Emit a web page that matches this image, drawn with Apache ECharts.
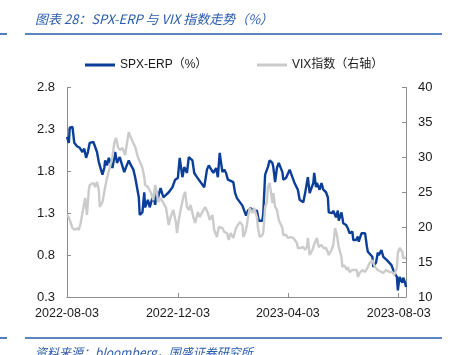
<!DOCTYPE html>
<html>
<head>
<meta charset="utf-8">
<script src="https://cdn.jsdelivr.net/npm/echarts@6/dist/echarts.min.js"></script>
<style>html,body{margin:0;padding:0;background:#fff}#c{width:454px;height:355px}</style>
</head>
<body>
<div id="c"></div>
<script>
const titleText = '图表 28：SPX-ERP 与 VIX 指数走势（%）';
const sourceText = '资料来源：bloomberg，国盛证券研究所';
const seriesNames = ['SPX-ERP（%）', 'VIX指数（右轴）'];
const xTickDates = ['2022-08-03', '2022-12-03', '2023-04-03', '2023-08-03'];
const xRange = ['2022-08-03', '2023-08-11'];
const leftTicks = [0.3, 0.8, 1.3, 1.8, 2.3, 2.8];
const rightTicks = [10, 15, 20, 25, 30, 35, 40];

const spxDates = ['2022-08-03','2022-08-05','2022-08-06','2022-08-09','2022-08-11','2022-08-14','2022-08-17','2022-08-20','2022-08-22','2022-08-24','2022-08-26','2022-08-28','2022-09-01','2022-09-03','2022-09-05','2022-09-07','2022-09-11','2022-09-13','2022-09-14','2022-09-16','2022-09-18','2022-09-22','2022-09-24','2022-09-25','2022-09-27','2022-09-30','2022-10-05','2022-10-07','2022-10-10','2022-10-11','2022-10-15','2022-10-17','2022-10-21','2022-10-22','2022-10-25','2022-10-27','2022-10-28','2022-10-31','2022-11-02','2022-11-03','2022-11-06','2022-11-08','2022-11-10','2022-11-11','2022-11-14','2022-11-17','2022-11-20','2022-11-23','2022-11-27','2022-11-30','2022-12-03','2022-12-05','2022-12-08','2022-12-10','2022-12-13','2022-12-15','2022-12-19','2022-12-21','2022-12-24','2022-12-26','2022-12-30','2023-01-01','2023-01-04','2023-01-06','2023-01-08','2023-01-11','2023-01-14','2023-01-16','2023-01-18','2023-01-21','2023-01-23','2023-01-25','2023-01-27','2023-01-29','2023-02-02','2023-02-04','2023-02-06','2023-02-08','2023-02-12','2023-02-14','2023-02-16','2023-02-18','2023-02-21','2023-02-24','2023-02-26','2023-02-28','2023-03-02','2023-03-06','2023-03-07','2023-03-09','2023-03-11','2023-03-12','2023-03-14','2023-03-17','2023-03-18','2023-03-20','2023-03-22','2023-03-24','2023-03-28','2023-03-29','2023-04-01','2023-04-03','2023-04-05','2023-04-08','2023-04-10','2023-04-12','2023-04-14','2023-04-16','2023-04-20','2023-04-22','2023-04-24','2023-04-25','2023-04-27','2023-05-01','2023-05-02','2023-05-04','2023-05-05','2023-05-08','2023-05-10','2023-05-12','2023-05-15','2023-05-17','2023-05-18','2023-05-22','2023-05-23','2023-05-26','2023-05-28','2023-05-29','2023-06-01','2023-06-03','2023-06-06','2023-06-08','2023-06-10','2023-06-13','2023-06-14','2023-06-17','2023-06-19','2023-06-20','2023-06-23','2023-06-25','2023-06-27','2023-06-29','2023-06-30','2023-07-02','2023-07-05','2023-07-06','2023-07-09','2023-07-11','2023-07-12','2023-07-15','2023-07-17','2023-07-19','2023-07-21','2023-07-23','2023-07-26','2023-07-27','2023-07-29','2023-08-01','2023-08-02','2023-08-04','2023-08-07','2023-08-08','2023-08-10','2023-08-11'];
const spxValues = [2.21,2.14,2.32,2.33,2.14,2.10,2.08,2.03,2.07,1.96,2.03,2.14,2.15,2.14,2.03,1.91,1.76,1.84,1.93,1.87,1.96,1.84,1.97,2.03,1.90,1.97,1.79,1.85,1.93,1.90,1.82,1.73,1.49,1.28,1.31,1.55,1.37,1.46,1.37,1.36,1.52,1.40,1.55,1.48,1.60,1.49,1.52,1.55,1.61,1.70,1.72,1.96,1.73,1.85,1.78,1.97,1.93,1.78,1.73,1.73,1.64,1.61,1.82,1.87,1.85,1.78,1.84,1.73,2.02,1.79,1.82,1.78,1.70,1.71,1.67,1.54,1.48,1.49,1.39,1.33,1.27,1.33,1.36,1.33,1.33,1.33,1.21,1.21,1.31,1.76,1.82,1.85,1.93,1.90,1.85,1.67,1.84,1.90,1.79,1.70,1.72,1.70,1.82,1.73,1.67,1.66,1.58,1.46,1.43,1.54,1.55,1.73,1.54,1.66,1.78,1.61,1.66,1.58,1.66,1.58,1.55,1.49,1.31,1.30,1.33,1.25,1.33,1.21,1.31,1.18,1.16,1.12,1.06,1.08,0.98,0.98,1.02,0.96,1.06,1.08,1.06,0.90,0.84,0.83,0.78,0.66,0.71,0.83,0.80,0.86,0.78,0.80,0.74,0.72,0.68,0.66,0.59,0.54,0.38,0.54,0.47,0.53,0.47,0.42];

const vixDates = ['2022-08-03','2022-08-05','2022-08-06','2022-08-09','2022-08-12','2022-08-14','2022-08-16','2022-08-18','2022-08-22','2022-08-23','2022-08-25','2022-08-27','2022-08-28','2022-09-01','2022-09-03','2022-09-05','2022-09-07','2022-09-08','2022-09-11','2022-09-13','2022-09-14','2022-09-16','2022-09-18','2022-09-19','2022-09-22','2022-09-24','2022-09-26','2022-09-28','2022-09-30','2022-10-03','2022-10-06','2022-10-08','2022-10-10','2022-10-11','2022-10-15','2022-10-17','2022-10-20','2022-10-22','2022-10-25','2022-10-27','2022-10-28','2022-10-31','2022-11-02','2022-11-03','2022-11-06','2022-11-08','2022-11-10','2022-11-11','2022-11-14','2022-11-17','2022-11-20','2022-11-22','2022-11-23','2022-11-25','2022-11-28','2022-12-01','2022-12-02','2022-12-04','2022-12-06','2022-12-09','2022-12-11','2022-12-13','2022-12-15','2022-12-17','2022-12-20','2022-12-22','2022-12-25','2022-12-27','2022-12-30','2023-01-02','2023-01-05','2023-01-07','2023-01-10','2023-01-12','2023-01-15','2023-01-17','2023-01-21','2023-01-23','2023-01-26','2023-01-28','2023-01-30','2023-02-02','2023-02-03','2023-02-05','2023-02-07','2023-02-09','2023-02-12','2023-02-13','2023-02-15','2023-02-17','2023-02-18','2023-02-20','2023-02-23','2023-02-25','2023-02-28','2023-03-01','2023-03-03','2023-03-06','2023-03-07','2023-03-09','2023-03-11','2023-03-12','2023-03-14','2023-03-17','2023-03-18','2023-03-20','2023-03-22','2023-03-24','2023-03-28','2023-03-29','2023-04-01','2023-04-03','2023-04-06','2023-04-09','2023-04-11','2023-04-13','2023-04-14','2023-04-17','2023-04-20','2023-04-22','2023-04-24','2023-04-25','2023-04-27','2023-04-30','2023-05-01','2023-05-04','2023-05-05','2023-05-07','2023-05-10','2023-05-12','2023-05-15','2023-05-17','2023-05-18','2023-05-21','2023-05-23','2023-05-25','2023-05-27','2023-05-29','2023-06-01','2023-06-02','2023-06-04','2023-06-07','2023-06-08','2023-06-10','2023-06-13','2023-06-15','2023-06-18','2023-06-19','2023-06-21','2023-06-24','2023-06-27','2023-06-30','2023-07-02','2023-07-05','2023-07-06','2023-07-08','2023-07-11','2023-07-13','2023-07-17','2023-07-20','2023-07-22','2023-07-24','2023-07-27','2023-07-29','2023-08-01','2023-08-02','2023-08-04','2023-08-07','2023-08-08','2023-08-10','2023-08-11'];
const vixValues = [21.74,21.45,21.03,19.88,19.59,19.88,19.59,20.60,23.46,24.18,21.74,25.32,26.04,26.32,25.75,26.47,25.32,22.89,23.60,25.03,25.75,27.04,27.18,28.47,30.05,32.05,32.77,31.48,31.05,31.34,30.33,32.05,33.63,33.20,32.05,31.48,30.05,29.90,28.47,27.18,26.04,25.75,25.61,25.04,23.89,26.04,25.04,23.60,24.18,23.46,22.74,21.03,20.31,21.45,22.46,20.60,19.16,21.03,22.46,24.32,25.04,22.89,22.46,23.17,21.45,20.60,22.17,21.45,22.17,22.89,22.03,21.03,21.74,19.59,18.59,20.02,19.88,19.31,19.16,18.16,19.16,18.45,18.59,19.88,20.02,20.74,20.31,18.59,19.16,20.31,21.31,22.74,22.03,22.74,21.45,20.02,18.59,18.88,19.31,22.89,23.60,25.75,26.32,23.46,24.89,22.89,22.46,21.03,19.88,18.88,18.88,18.45,18.59,18.45,18.59,17.73,17.02,17.02,17.16,16.73,17.16,18.45,16.01,16.73,17.16,18.16,18.45,17.16,17.45,17.02,17.02,16.44,16.01,16.73,17.45,19.88,18.88,17.16,15.73,14.29,14.58,13.86,14.29,13.58,13.86,13.58,13.86,12.86,13.43,13.86,13.58,14.29,14.87,15.30,14.87,14.29,13.86,13.58,13.43,13.86,13.58,13.58,13.58,13.15,14.15,16.30,17.02,16.44,15.58,15.73,15.58];

function parseDate(s) {
  const p = s.split('-').map(Number);
  return new Date(p[0], p[1] - 1, p[2]).getTime();
}
function fmtDate(t) {
  const d = new Date(t);
  const pad = n => (n < 10 ? '0' : '') + n;
  return d.getFullYear() + '-' + pad(d.getMonth() + 1) + '-' + pad(d.getDate());
}

const BLUE = '#0b3f97';
const GREY = '#cbcbcb';
const HEAD = '#2a5cad';
const AXIS = '#8c8c8c';
const LAB = '#1a1a1a';
const LATIN = '"Liberation Sans", Arial, "Noto Sans CJK SC", sans-serif';

const chart = echarts.init(document.getElementById('c'), null, { renderer: 'canvas' });
chart.setOption({
  animation: false,
  backgroundColor: '#fff',
  grid: { left: 67, right: 48, top: 87.5, bottom: 58, containLabel: false },
  graphic: [
    { type: 'text', left: 35, top: 13, style: { text: titleText, fill: HEAD, font: 'italic 13px "Noto Sans CJK SC", sans-serif' } },
    { type: 'line', shape: { x1: 0, y1: 34, x2: 7, y2: 34 }, style: { stroke: HEAD, lineWidth: 1.6 } },
    { type: 'line', shape: { x1: 25, y1: 34, x2: 442, y2: 34 }, style: { stroke: HEAD, lineWidth: 1.6 } },
    { type: 'line', shape: { x1: 0, y1: 338, x2: 7, y2: 338 }, style: { stroke: HEAD, lineWidth: 1.6 } },
    { type: 'line', shape: { x1: 25, y1: 338, x2: 442, y2: 338 }, style: { stroke: HEAD, lineWidth: 1.6 } },
    { type: 'text', left: 35, top: 346, style: { text: sourceText, fill: HEAD, font: 'italic 12px "Noto Sans CJK SC", sans-serif' } }
  ],
  legend: [
    { data: [seriesNames[0]], left: 85, top: 59, padding: 0, itemWidth: 30, itemHeight: 3, icon: 'rect',
      textStyle: { fontSize: 12, color: LAB, fontFamily: LATIN } },
    { data: [seriesNames[1]], left: 257, top: 59, padding: 0, itemWidth: 30, itemHeight: 3, icon: 'rect',
      textStyle: { fontSize: 12, color: LAB, fontFamily: LATIN } }
  ],
  xAxis: {
    type: 'value',
    min: parseDate(xRange[0]),
    max: parseDate(xRange[1]),
    axisLine: { show: true, lineStyle: { color: AXIS, width: 1 } },
    axisTick: { show: true, inside: true, length: 4, lineStyle: { color: AXIS }, customValues: xTickDates.map(parseDate) },
    axisLabel: { customValues: xTickDates.map(parseDate), formatter: v => fmtDate(v), fontSize: 12.5, color: LAB, fontFamily: LATIN, margin: 10, hideOverlap: false },
    splitLine: { show: false }
  },
  yAxis: [
    { type: 'value', min: leftTicks[0], max: leftTicks[leftTicks.length - 1], interval: 0.5,
      axisLine: { show: true, lineStyle: { color: AXIS } },
      axisTick: { show: true, inside: true, length: 4, lineStyle: { color: AXIS } },
      axisLabel: { formatter: v => Number(v).toFixed(1), fontSize: 13, color: LAB, fontFamily: LATIN, margin: 12 },
      splitLine: { show: false } },
    { type: 'value', position: 'right', min: rightTicks[0], max: rightTicks[rightTicks.length - 1], interval: 5,
      axisLine: { show: true, lineStyle: { color: AXIS } },
      axisTick: { show: true, inside: true, length: 4, lineStyle: { color: AXIS } },
      axisLabel: { formatter: v => String(Math.round(v)), fontSize: 13, color: LAB, fontFamily: LATIN, margin: 12 },
      splitLine: { show: false } }
  ],
  series: [
    { name: seriesNames[0], type: 'line', yAxisIndex: 0, showSymbol: false, symbol: 'none',
      itemStyle: { color: BLUE }, lineStyle: { color: BLUE, width: 2.4 },
      data: spxDates.map((d, i) => [parseDate(d), spxValues[i]]) },
    { name: seriesNames[1], type: 'line', yAxisIndex: 1, showSymbol: false, symbol: 'none',
      itemStyle: { color: GREY }, lineStyle: { color: GREY, width: 2.4 },
      data: vixDates.map((d, i) => [parseDate(d), vixValues[i]]) }
  ]
});
</script>
</body>
</html>
